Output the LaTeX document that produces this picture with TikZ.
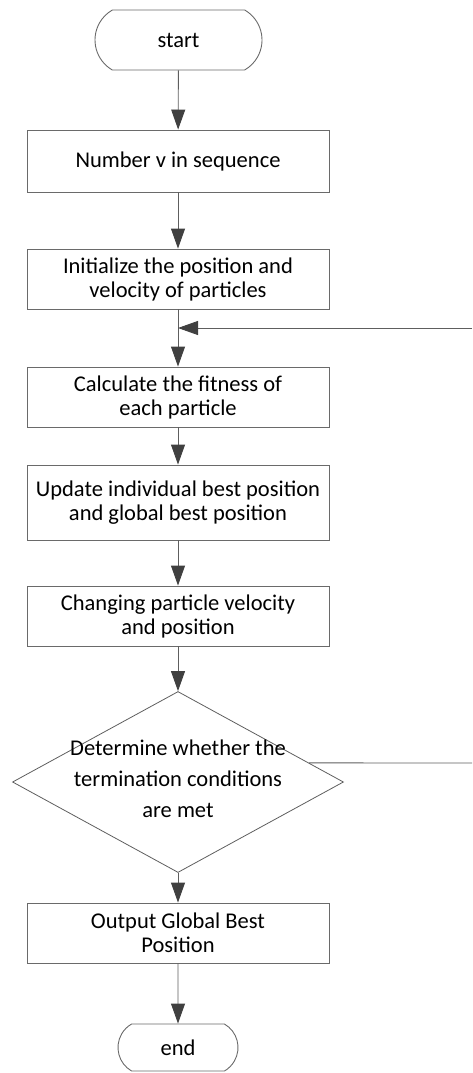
\documentclass[tikz,border=0pt]{standalone}
\usepackage{fontspec}
\setmainfont{Carlito}
\usetikzlibrary{arrows.meta,shapes.geometric,shapes.misc,calc}
\definecolor{linec}{HTML}{5E5E5E}
\definecolor{boxc}{HTML}{6A6A6A}
\definecolor{tipc}{HTML}{404040}
\begin{document}
\begin{tikzpicture}[x=1pt,y=-1pt,
  font=\fontsize{22.5pt}{24pt}\selectfont,
  procbox/.style={draw=boxc,line width=0.9pt,rectangle,minimum width=302pt,inner sep=0pt,align=center},
  termbox/.style={draw=boxc,line width=0.9pt,rounded rectangle,rounded rectangle arc length=120,inner sep=0pt},
  decbox/.style={draw=linec,line width=0.8pt,diamond,minimum width=331pt,minimum height=181pt,inner sep=0pt},
  flow/.style={draw=linec,line width=0.9pt,-{Triangle[length=20pt,width=14pt,fill=tipc,color=tipc]}},
  plain/.style={draw=linec,line width=0.9pt}]
\useasboundingbox (0,0) rectangle (472,1073);
\node[termbox,minimum width=167pt,minimum height=60pt] (start) at (178.5,40) {start};
\node[procbox,minimum height=62pt] (b1) at (178,161) {Number v in sequence};
\node[procbox,minimum height=60pt] (b2) at (178,279) {Initialize the position and\\velocity of particles};
\node[procbox,minimum height=60pt] (b3) at (178,397) {Calculate the fitness of\\each particle};
\node[procbox,minimum height=75pt] (b4) at (178,502.5) {Update individual best position\\and global best position};
\node[procbox,minimum height=60pt] (b5) at (178,616) {Changing particle velocity\\and position};
\node[decbox] (d) at (178,782) {};
\node[align=center,inner sep=0pt,font=\fontsize{22.5pt}{31pt}\selectfont] (dt) at (178,779) {Determine whether the\\termination conditions\\are met};
\node[procbox,minimum height=60pt] (b6) at (178,933) {Output Global Best\\Position};
\node[termbox,minimum width=120pt,minimum height=47pt] (end) at (178,1047.5) {end};
\coordinate (fb) at ($(d.east)!0.21!(d.north)$);
\coordinate (r1) at (472,763);
\coordinate (r2) at (472,328);
\coordinate (j) at (178,328);
\draw[flow] (start) -- (b1);
\draw[flow] (b1) -- (b2);
\draw[flow] (b2) -- (b3);
\draw[flow] (b3) -- (b4);
\draw[flow] (b4) -- (b5);
\draw[flow] (b5.south) -- (d.north);
\draw[flow] (d) -- (b6);
\draw[flow] (b6) -- (end);
\draw[plain] (fb) -- (r1);
\draw[flow] (r2) -- (j);
\end{tikzpicture}
\end{document}
